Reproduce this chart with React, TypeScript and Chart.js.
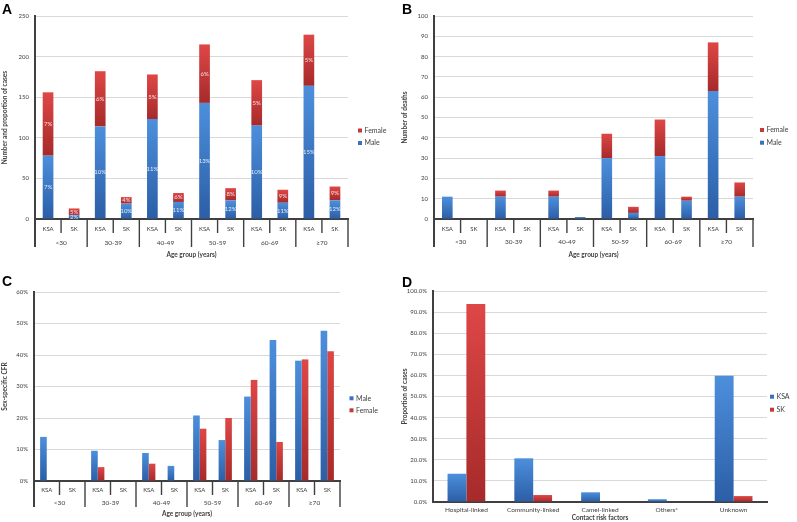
import React, { useEffect, useRef } from 'react';
import { Chart, registerables } from 'chart.js';

Chart.register(...registerables);

// ---------- data ----------
const ageGroups = ['<30', '30-39', '40-49', '50-59', '60-69', '≥70'];
const countries = ['KSA', 'SK'];

// Panel A: number of cases (stacked)
const casesMale = [78, 5, 114, 19, 123, 21, 143, 23, 115, 20, 164, 23];
const casesFemale = [78, 8, 68, 8, 55, 11, 72, 15, 56, 16, 63, 17];
const casesMalePct = ['7%', '2%', '10%', '10%', '11%', '11%', '13%', '12%', '10%', '11%', '15%', '12%'];
const casesFemalePct = ['7%', '5%', '6%', '4%', '5%', '6%', '6%', '8%', '5%', '9%', '5%', '9%'];

// Panel B: number of deaths (stacked)
const deathsMale = [11, 0, 11, 0, 11, 1, 30, 3, 31, 9, 63, 11];
const deathsFemale = [0, 0, 3, 0, 3, 0, 12, 3, 18, 2, 24, 7];

// Panel C: sex-specific CFR (%)
const cfrMale = [14.0, 0, 9.6, 0, 8.9, 4.8, 20.8, 13.0, 26.8, 44.8, 38.2, 47.7];
const cfrFemale = [0, 0, 4.4, 0, 5.5, 0, 16.6, 20.0, 32.1, 12.4, 38.6, 41.2];

// Panel D: contact risk factors (%)
const riskFactors = ['Hospital-linked', 'Community-linked', 'Camel-linked', 'Others*', 'Unknown'];
const riskKSA = [13.4, 20.7, 4.6, 1.3, 59.8];
const riskSK = [93.8, 3.3, 0, 0, 2.8];

// ---------- styling ----------
const FONT = 'Lato, "Open Sans", "DejaVu Sans", sans-serif';
const TXT = '#404040';
const AXIS = '#404040';
const GRID = '#d9d9d9';
const BLUE_L = '#4d8fdc';
const BLUE_D = '#2b5ea6';
const RED_L = '#de4746';
const RED_D = '#a62a2a';
const BLUE_KEY = '#3a70c0';
const RED_KEY = '#c23a3a';

const xyLabels = ageGroups.flatMap(() => countries);

function gradFill(light: string, dark: string, arrays: number[][], ds: number, stacked: boolean) {
  return (c: any) => {
    const chart = c.chart;
    const y = chart.scales && chart.scales.y;
    if (!chart.chartArea || !y || c.dataIndex == null) return dark;
    const j = c.dataIndex;
    let base = 0;
    if (stacked) for (let k = 0; k < ds; k++) base += arrays[k][j];
    const v = arrays[ds][j];
    const y0 = y.getPixelForValue(base);
    const y1 = y.getPixelForValue(base + v);
    if (!isFinite(y0) || !isFinite(y1) || Math.abs(y0 - y1) < 0.5) return dark;
    const g = chart.ctx.createLinearGradient(0, y1, 0, y0);
    g.addColorStop(0, light);
    g.addColorStop(1, dark);
    return g;
  };
}

function sideLegend(items: { label: string; color: string }[], x: number, ys: number[]) {
  return {
    id: 'sideLegend',
    afterDraw(chart: any) {
      const ctx = chart.ctx;
      ctx.save();
      ctx.font = `7px ${FONT}`;
      ctx.textBaseline = 'middle';
      ctx.textAlign = 'left';
      items.forEach((it, i) => {
        ctx.fillStyle = it.color;
        ctx.fillRect(x - 2, ys[i] - 2, 4, 4);
        ctx.fillStyle = TXT;
        ctx.fillText(it.label, x + 4.5, ys[i]);
      });
      ctx.restore();
    },
  };
}

function groupAxis(groups: string[], per: number, shortLen: number, longLen: number, labelDy: number) {
  return {
    id: 'groupAxis',
    afterDraw(chart: any) {
      const x = chart.scales.x;
      const ctx = chart.ctx;
      const n = chart.data.labels.length;
      const edges: number[] = [];
      for (let i = 0; i <= n; i++) {
        let px;
        if (i === 0) px = x.left;
        else if (i === n) px = x.right;
        else px = (x.getPixelForValue(i - 1) + x.getPixelForValue(i)) / 2;
        edges.push(px);
      }
      ctx.save();
      ctx.strokeStyle = AXIS;
      edges.forEach((px, i) => {
        const long = i % per === 0;
        ctx.lineWidth = i === 0 ? 2 : 1.4;
        ctx.beginPath();
        ctx.moveTo(px, x.top);
        ctx.lineTo(px, x.top + (long ? longLen : shortLen));
        ctx.stroke();
      });
      ctx.fillStyle = TXT;
      ctx.font = `6.5px ${FONT}`;
      ctx.textAlign = 'center';
      ctx.textBaseline = 'middle';
      groups.forEach((g, gi) => {
        const cx = (edges[gi * per] + edges[gi * per + per]) / 2;
        ctx.fillText(g, cx, x.top + labelDy);
      });
      ctx.restore();
    },
  };
}

function segLabels(labels: string[][]) {
  return {
    id: 'segLabels',
    afterDatasetsDraw(chart: any) {
      const ctx = chart.ctx;
      ctx.save();
      ctx.font = `6px ${FONT}`;
      ctx.fillStyle = 'rgba(255,255,255,0.85)';
      ctx.textAlign = 'center';
      ctx.textBaseline = 'middle';
      labels.forEach((labs, di) => {
        const meta = chart.getDatasetMeta(di);
        meta.data.forEach((el: any, j: number) => {
          const p = el.getProps(['x', 'y', 'base'], true);
          if (labs[j]) ctx.fillText(labs[j], p.x, (p.y + p.base) / 2);
        });
      });
      ctx.restore();
    },
  };
}

type OptSpec = {
  padding: { left: number; top: number; right: number; bottom: number };
  yWidth: number;
  xHeight: number;
  yMax: number;
  yStep: number;
  yFmt: (v: any) => string;
  yTitle: string;
  xTitle: string;
  xTitlePad: number;
  xTickPad: number;
  xTickSize: number;
  stacked: boolean;
};

function makeOptions(p: OptSpec): any {
  return {
    responsive: false,
    animation: false,
    devicePixelRatio: 1,
    events: [],
    layout: { padding: p.padding },
    plugins: { legend: { display: false }, tooltip: { enabled: false } },
    scales: {
      x: {
        stacked: p.stacked,
        offset: true,
        grid: { display: false, drawTicks: false },
        border: { display: true, color: AXIS, width: 2 },
        ticks: {
          color: TXT,
          font: { family: FONT, size: p.xTickSize },
          padding: p.xTickPad,
          maxRotation: 0,
          autoSkip: false,
        },
        title: {
          display: true,
          text: p.xTitle,
          color: TXT,
          font: { family: FONT, size: 6.5, weight: 'bold' },
          padding: { top: 0, bottom: p.xTitlePad },
        },
        afterFit: (s: any) => {
          s.height = p.xHeight;
        },
      },
      y: {
        stacked: p.stacked,
        min: 0,
        max: p.yMax,
        grid: { color: GRID, lineWidth: 1, drawTicks: false },
        border: { display: true, color: AXIS, width: 2 },
        ticks: {
          stepSize: p.yStep,
          color: TXT,
          font: { family: FONT, size: 6 },
          padding: 6,
          callback: p.yFmt,
        },
        title: {
          display: true,
          text: p.yTitle,
          color: TXT,
          font: { family: FONT, size: 6.5, weight: 'bold' },
          padding: { top: 1, bottom: 0 },
        },
        afterFit: (s: any) => {
          s.width = p.yWidth;
        },
      },
    },
  };
}

// ---------- configs ----------
function configA(): any {
  const arrs = [casesMale, casesFemale];
  return {
    type: 'bar',
    data: {
      labels: xyLabels,
      datasets: [
        { label: 'Male', data: casesMale, backgroundColor: gradFill(BLUE_L, BLUE_D, arrs, 0, true), barPercentage: 0.41, categoryPercentage: 1 },
        { label: 'Female', data: casesFemale, backgroundColor: gradFill(RED_L, RED_D, arrs, 1, true), barPercentage: 0.41, categoryPercentage: 1 },
      ],
    },
    options: makeOptions({
      padding: { left: 0, top: 16, right: 52, bottom: 0 },
      yWidth: 35,
      xHeight: 41,
      yMax: 250,
      yStep: 50,
      yFmt: (v: any) => String(v),
      yTitle: 'Number and proportion of cases',
      xTitle: 'Age group (years)',
      xTitlePad: 1,
      xTickPad: 6,
      xTickSize: 6,
      stacked: true,
    }),
    plugins: [
      sideLegend([{ label: 'Female', color: RED_KEY }, { label: 'Male', color: BLUE_KEY }], 360, [130.5, 143]),
      groupAxis(ageGroups, 2, 14, 28, 23.7),
      segLabels([casesMalePct, casesFemalePct]),
    ],
  };
}

function configB(): any {
  const arrs = [deathsMale, deathsFemale];
  return {
    type: 'bar',
    data: {
      labels: xyLabels,
      datasets: [
        { label: 'Male', data: deathsMale, backgroundColor: gradFill(BLUE_L, BLUE_D, arrs, 0, true), barPercentage: 0.4, categoryPercentage: 1 },
        { label: 'Female', data: deathsFemale, backgroundColor: gradFill(RED_L, RED_D, arrs, 1, true), barPercentage: 0.4, categoryPercentage: 1 },
      ],
    },
    options: makeOptions({
      padding: { left: 0, top: 16, right: 44, bottom: 0 },
      yWidth: 34,
      xHeight: 41,
      yMax: 100,
      yStep: 10,
      yFmt: (v: any) => String(v),
      yTitle: 'Number of deaths',
      xTitle: 'Age group (years)',
      xTitlePad: 1,
      xTickPad: 6,
      xTickSize: 6,
      stacked: true,
    }),
    plugins: [
      sideLegend([{ label: 'Female', color: RED_KEY }, { label: 'Male', color: BLUE_KEY }], 362, [130, 142.7]),
      groupAxis(ageGroups, 2, 14, 28, 23.3),
    ],
  };
}

function configC(): any {
  const arrs = [cfrMale, cfrFemale];
  return {
    type: 'bar',
    data: {
      labels: xyLabels,
      datasets: [
        { label: 'Male', data: cfrMale, backgroundColor: gradFill(BLUE_L, BLUE_D, arrs, 0, false), barPercentage: 1, categoryPercentage: 0.52 },
        { label: 'Female', data: cfrFemale, backgroundColor: gradFill(RED_L, RED_D, arrs, 1, false), barPercentage: 1, categoryPercentage: 0.52 },
      ],
    },
    options: makeOptions({
      padding: { left: 0, top: 32, right: 60, bottom: 0 },
      yWidth: 34,
      xHeight: 41,
      yMax: 60,
      yStep: 10,
      yFmt: (v: any) => v + '%',
      yTitle: 'Sex-specific CFR',
      xTitle: 'Age group (years)',
      xTitlePad: 4,
      xTickPad: 5,
      xTickSize: 6,
      stacked: false,
    }),
    plugins: [
      sideLegend([{ label: 'Male', color: BLUE_KEY }, { label: 'Female', color: RED_KEY }], 351.5, [138.3, 150.3]),
      groupAxis(ageGroups, 2, 14, 26, 22.3),
    ],
  };
}

function configD(): any {
  const arrs = [riskKSA, riskSK];
  return {
    type: 'bar',
    data: {
      labels: riskFactors,
      datasets: [
        { label: 'KSA', data: riskKSA, backgroundColor: gradFill(BLUE_L, BLUE_D, arrs, 0, false), barPercentage: 1, categoryPercentage: 0.565 },
        { label: 'SK', data: riskSK, backgroundColor: gradFill(RED_L, RED_D, arrs, 1, false), barPercentage: 1, categoryPercentage: 0.565 },
      ],
    },
    options: makeOptions({
      padding: { left: 0, top: 31, right: 30, bottom: 0 },
      yWidth: 33,
      xHeight: 20,
      yMax: 100,
      yStep: 10,
      yFmt: (v: any) => Number(v).toFixed(1) + '%',
      yTitle: 'Proportion of cases',
      xTitle: 'Contact risk factors',
      xTitlePad: 0,
      xTickPad: 4,
      xTickSize: 6.5,
      stacked: false,
    }),
    plugins: [sideLegend([{ label: 'KSA', color: BLUE_KEY }, { label: 'SK', color: RED_KEY }], 372, [136.7, 149.7])],
  };
}

function ChartCanvas(props: { make: () => any; left: number; top: number; width: number; height: number }) {
  const ref = useRef<HTMLCanvasElement>(null);
  useEffect(() => {
    const chart = new Chart(ref.current as HTMLCanvasElement, props.make());
    return () => chart.destroy();
  }, []);
  return (
    <canvas
      ref={ref}
      width={props.width}
      height={props.height}
      style={{ position: 'absolute', left: props.left, top: props.top, width: props.width, height: props.height }}
    />
  );
}

const letterStyle: React.CSSProperties = {
  position: 'absolute',
  fontFamily: '"Liberation Sans", Arial, sans-serif',
  fontWeight: 'bold',
  fontSize: 14,
  lineHeight: '14px',
  color: '#000',
};

export default function App() {
  return (
    <div style={{ position: 'absolute', left: 0, top: 0, width: 797, height: 522, background: '#fff', overflow: 'hidden' }}>
      <ChartCanvas make={configA} left={0} top={0} width={400} height={260} />
      <ChartCanvas make={configB} left={400} top={0} width={397} height={260} />
      <ChartCanvas make={configC} left={0} top={260} width={400} height={262} />
      <ChartCanvas make={configD} left={400} top={260} width={397} height={262} />
      <div style={{ ...letterStyle, left: 2, top: 2 }}>A</div>
      <div style={{ ...letterStyle, left: 402, top: 2 }}>B</div>
      <div style={{ ...letterStyle, left: 2, top: 274 }}>C</div>
      <div style={{ ...letterStyle, left: 402, top: 275 }}>D</div>
    </div>
  );
}
